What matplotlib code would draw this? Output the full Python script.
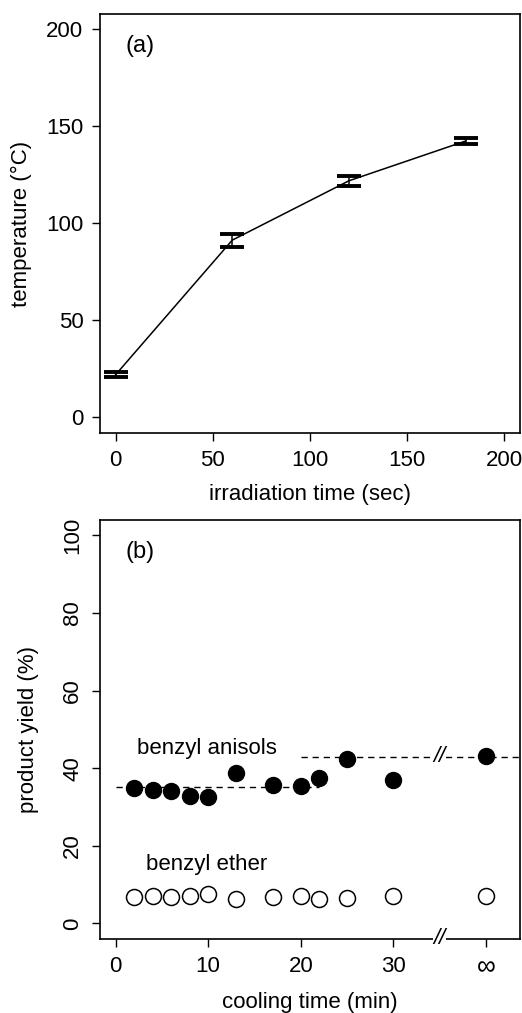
import matplotlib
matplotlib.use("Agg")
import matplotlib.pyplot as plt

plt.rcParams['font.family'] = ['Liberation Sans', 'DejaVu Sans']
plt.rcParams['font.size'] = 16

# (a) heating curve
irr_time = [0, 60, 120, 180]
temp = [22, 91.4, 122, 142.5]
temp_err = [1.2, 3.3, 2.6, 1.6]

# (b) yields vs cooling time; the last point is "infinity" drawn at x=40
cool_time = [2, 4, 6, 8, 10, 13, 17, 20, 22, 25, 30, 40]
anisols = [34.8, 34.4, 34.1, 32.9, 32.5, 38.9, 35.7, 35.5, 37.4, 42.3, 37.1, 43.2]
ether = [6.7, 7.1, 6.7, 7.2, 7.5, 6.4, 6.8, 7.1, 6.4, 6.5, 7.1, 7.2]
cool_ticks = [0, 10, 20, 30, 40]
cool_labels = ['0', '10', '20', '30', '\u221e']
level_low = 35.1
level_high = 43.0

fig = plt.figure(figsize=(5.22, 10.13), dpi=100)

#%% panel (a)
ax1 = fig.add_axes([0.1916, 0.5726, 0.8046, 0.4136])
ax1.errorbar(irr_time, temp, yerr=temp_err, color='black', lw=1.1,
             capsize=8.5, capthick=2.8, elinewidth=1.1)
ax1.set_xlim(-8, 208)
ax1.set_ylim(-8, 208)
ax1.set_xticks([0, 50, 100, 150, 200])
ax1.set_yticks([0, 50, 100, 150, 200])
ax1.tick_params(direction='out', length=6, width=1, pad=6)
ax1.set_xlabel('irradiation time (sec)')
ax1.xaxis.set_label_coords(0.5, -0.122)
ax1.set_ylabel('temperature (\u00b0C)', labelpad=10)
ax1.text(0.06, 0.95, '(a)', transform=ax1.transAxes, fontsize=17, va='top')
for s in ax1.spines.values():
    s.set_linewidth(1.2)

#%% panel (b)
ax2 = fig.add_axes([0.1916, 0.0731, 0.8046, 0.4136])
ax2.plot([0, 22], [level_low, level_low], ls=(0, (4.5, 3.5)), color='black', lw=1)
ax2.plot([20, 45], [level_high, level_high], ls=(0, (4.5, 3.5)), color='black', lw=1)
ax2.plot(cool_time, anisols, 'o', ms=11.5, color='black')
ax2.plot(cool_time, ether, 'o', ms=11.5, mfc='white', mec='black', mew=1.1)
ax2.set_xlim(-1.68, 43.68)
ax2.set_ylim(-4, 104)
ax2.set_xticks(cool_ticks)
ax2.set_xticklabels(cool_labels)
ax2.get_xticklabels()[-1].set_fontsize(19)
ax2.set_yticks([0, 20, 40, 60, 80, 100])
ax2.tick_params(direction='out', length=6, width=1, pad=6)
for lab in ax2.get_yticklabels():
    lab.set_rotation(90)
    lab.set_va('center')
ax2.set_xlabel('cooling time (min)')
ax2.xaxis.set_label_coords(0.5, -0.127)
ax2.set_ylabel('product yield (%)', labelpad=17)
ax2.text(0.06, 0.95, '(b)', transform=ax2.transAxes, fontsize=17, va='top')
ax2.text(2.3, 45.1, 'benzyl anisols', va='center')
ax2.text(3.3, 15.3, 'benzyl ether', va='center')
for s in ax2.spines.values():
    s.set_linewidth(1.2)

# axis break marks
for yb, clip in [(level_high, True), (-4, False)]:
    ax2.text(35, yb, '//', ha='center', va='center', fontsize=16, style='italic',
             clip_on=clip, bbox=dict(fc='white', ec='none', pad=0.5))

fig.savefig('out.png', dpi=100)
